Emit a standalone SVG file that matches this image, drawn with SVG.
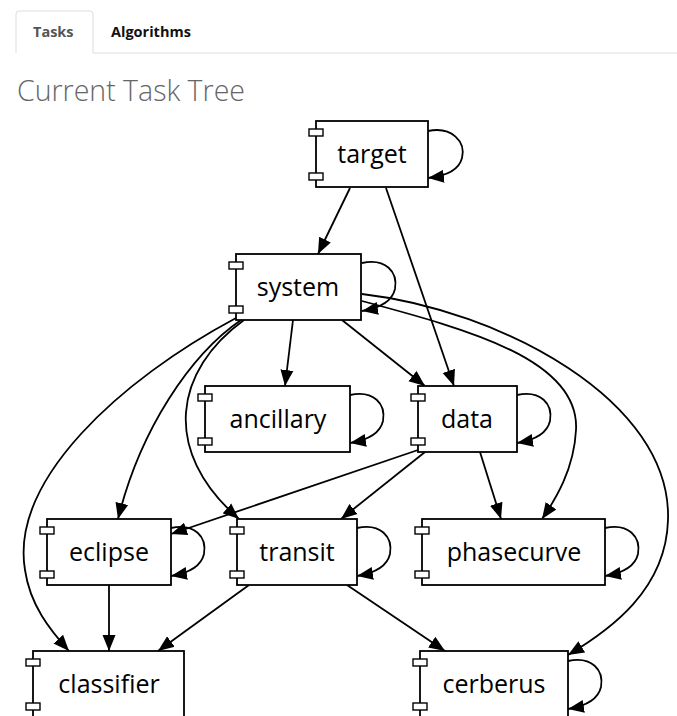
<svg xmlns="http://www.w3.org/2000/svg" width="677" height="716" viewBox="0 0 677 716">
<style>
.box{fill:#fff;stroke:#000;stroke-width:1.8}
.port{fill:#fff;stroke:#000;stroke-width:1.4}
.lbl{font-family:"Open Sans","Noto Sans",sans-serif;font-size:25px;fill:#000;text-anchor:middle}
.e{fill:none;stroke:#000;stroke-width:1.8;marker-end:url(#ah)}
.tab{font-family:"Open Sans","Noto Sans",sans-serif;font-size:14.5px;font-weight:bold}
</style>
<defs>
<marker id="ah" markerUnits="userSpaceOnUse" markerWidth="18" markerHeight="14" refX="16" refY="7" orient="auto" viewBox="0 0 18 14">
<path d="M0,0.5 L16,7 L0,13.5 z" fill="#000"/>
</marker>
</defs>
<rect width="677" height="716" fill="#fff"/>
<g id="tabs">
<path d="M16,53 L16,14 Q16,11 19,11 L90,11 Q93,11 93,14 L93,53" fill="#fff" stroke="#ddd" stroke-width="1"/>
<line x1="93" y1="53" x2="677" y2="53" stroke="#ddd" stroke-width="1"/>
<text class="tab" x="33" y="37" fill="#555">Tasks</text>
<text class="tab" x="111" y="37" fill="#111">Algorithms</text>
</g>
<text x="17" y="101" font-family="'Open Sans','Noto Sans',sans-serif" font-size="28.5" font-weight="300" fill="#666">Current Task Tree</text>
<g id="connectors">
<path class="e" d="M350,188 L318,254"/>
<path class="e" d="M428,131 C452,126 466,142 462,158 C459,170 446,176 428,178"/>
<path class="e" d="M386,188 L454,386"/>
<path class="e" d="M362,263 C386,258 398,272 395,289 C392,302 380,308 362,311"/>
<path class="e" d="M293,320 L285,386"/>
<path class="e" d="M342,320 L425,386"/>
<path class="e" d="M241,320 C190,355 140,430 118,519"/>
<path class="e" d="M244,320 C175,370 160,450 239,519"/>
<path class="e" d="M236,318 C120,380 10,480 25,570 C30,605 50,630 69,651"/>
<path class="e" d="M362,301 C470,330 580,360 576,430 C574,470 555,500 542,519"/>
<path class="e" d="M362,294 C500,310 672,400 668,520 C666,590 610,630 568,655"/>
<path class="e" d="M517,395 C541,390 553,404 550,421 C547,434 535,440 517,443"/>
<path class="e" d="M350,395 C374,390 386,404 383,421 C380,434 368,440 350,443"/>
<path class="e" d="M418,450 L171,534"/>
<path class="e" d="M425,452 L341,519"/>
<path class="e" d="M480,452 L501,519"/>
<path class="e" d="M171,528 C195,523 207,537 204,554 C201,567 189,573 171,576"/>
<path class="e" d="M357,528 C381,523 393,537 390,554 C387,567 375,573 357,576"/>
<path class="e" d="M605,528 C629,523 641,537 638,554 C635,567 623,573 605,576"/>
<path class="e" d="M109,585 L109,651"/>
<path class="e" d="M249,585 L158,651"/>
<path class="e" d="M347,585 L445,651"/>
<path class="e" d="M568,661 C592,656 604,670 601,687 C598,700 586,706 568,709"/>
</g>
<g id="target">
<rect class="box" x="316" y="121" width="112" height="66"/>
<rect class="port" x="309" y="129" width="14" height="7"/>
<rect class="port" x="309" y="173" width="14" height="7"/>
<text class="lbl" x="372" y="163">target</text>
</g>
<g id="system">
<rect class="box" x="236" y="254" width="125" height="66"/>
<rect class="port" x="229" y="262" width="14" height="7"/>
<rect class="port" x="229" y="306" width="14" height="7"/>
<text class="lbl" x="298" y="296">system</text>
</g>
<g id="ancillary">
<rect class="box" x="205" y="386" width="145" height="66"/>
<rect class="port" x="198" y="394" width="14" height="7"/>
<rect class="port" x="198" y="438" width="14" height="7"/>
<text class="lbl" x="278" y="428">ancillary</text>
</g>
<g id="data">
<rect class="box" x="418" y="386" width="99" height="66"/>
<rect class="port" x="411" y="394" width="14" height="7"/>
<rect class="port" x="411" y="438" width="14" height="7"/>
<text class="lbl" x="467" y="428">data</text>
</g>
<g id="eclipse">
<rect class="box" x="47" y="519" width="124" height="66"/>
<rect class="port" x="40" y="527" width="14" height="7"/>
<rect class="port" x="40" y="571" width="14" height="7"/>
<text class="lbl" x="109" y="561">eclipse</text>
</g>
<g id="transit">
<rect class="box" x="237" y="519" width="120" height="66"/>
<rect class="port" x="230" y="527" width="14" height="7"/>
<rect class="port" x="230" y="571" width="14" height="7"/>
<text class="lbl" x="297" y="561">transit</text>
</g>
<g id="phasecurve">
<rect class="box" x="422" y="519" width="183" height="66"/>
<rect class="port" x="415" y="527" width="14" height="7"/>
<rect class="port" x="415" y="571" width="14" height="7"/>
<text class="lbl" x="514" y="561">phasecurve</text>
</g>
<g id="classifier">
<rect class="box" x="33" y="651" width="151" height="66"/>
<rect class="port" x="26" y="659" width="14" height="7"/>
<rect class="port" x="26" y="703" width="14" height="7"/>
<text class="lbl" x="109" y="693">classifier</text>
</g>
<g id="cerberus">
<rect class="box" x="420" y="651" width="148" height="66"/>
<rect class="port" x="413" y="659" width="14" height="7"/>
<rect class="port" x="413" y="703" width="14" height="7"/>
<text class="lbl" x="494" y="693">cerberus</text>
</g>
</svg>
